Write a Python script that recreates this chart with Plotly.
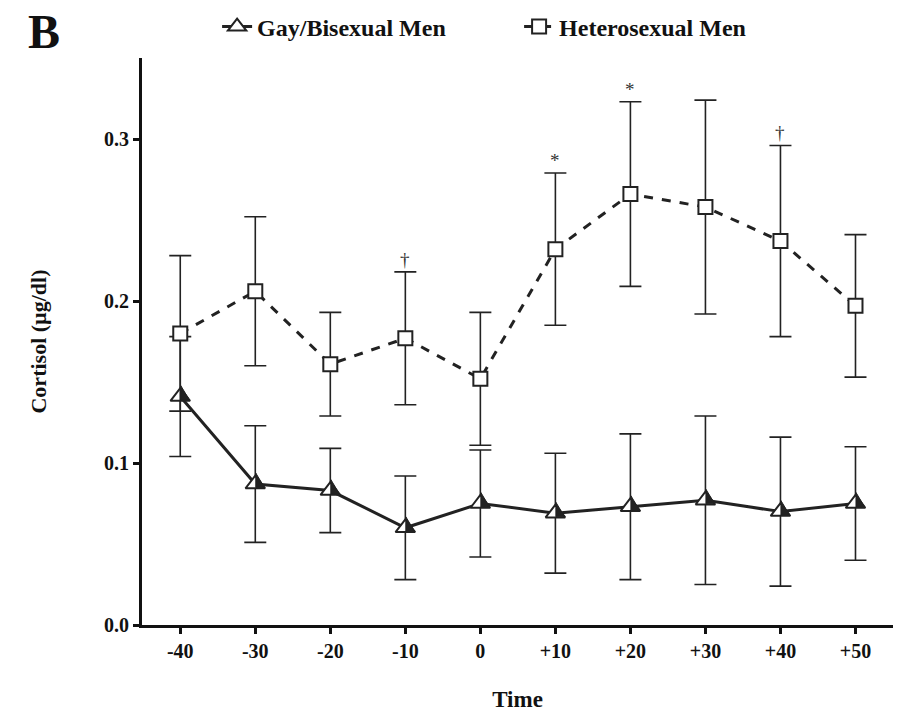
import plotly.graph_objects as go

# Sampling times (minutes relative to stressor) and their axis labels
times = [-40, -30, -20, -10, 0, 10, 20, 30, 40, 50]
time_labels = ["-40", "-30", "-20", "-10", "0", "+10", "+20", "+30", "+40", "+50"]

# Mean salivary cortisol (µg/dl) and SEM for each group
gay_mean = [0.141, 0.087, 0.083, 0.060, 0.075, 0.069, 0.073, 0.077, 0.070, 0.075]
gay_err = [0.037, 0.036, 0.026, 0.032, 0.033, 0.037, 0.045, 0.052, 0.046, 0.035]
het_mean = [0.180, 0.206, 0.161, 0.177, 0.152, 0.232, 0.266, 0.258, 0.237, 0.197]
het_err = [0.048, 0.046, 0.032, 0.041, 0.041, 0.047, 0.057, 0.066, 0.059, 0.044]

# Significance markers above the heterosexual group's error bars
sig_marks = {-10: "†", 10: "*", 20: "*", 40: "†"}

FONT = "Liberation Serif"
INK = "#222222"
TEXT = "#111111"

fig = go.Figure()

fig.add_trace(go.Scatter(
    x=times, y=gay_mean, name="Gay/Bisexual Men",
    mode="lines+markers",
    line=dict(color=INK, width=3),
    marker=dict(symbol="triangle-up", size=17, color="white",
                line=dict(color=INK, width=2)),
    error_y=dict(type="data", array=gay_err, visible=True,
                 color=INK, thickness=1.6, width=11),
))

fig.add_trace(go.Scatter(
    x=times, y=het_mean, name="Heterosexual Men",
    mode="lines+markers",
    line=dict(color=INK, width=3, dash="dash"),
    marker=dict(symbol="square", size=14, color="white",
                line=dict(color=INK, width=2)),
    error_y=dict(type="data", array=het_err, visible=True,
                 color=INK, thickness=1.6, width=11),
))

# Half-filled triangle markers: shade the right half of each triangle
for t, v in zip(times, gay_mean):
    fig.add_shape(
        type="path", xref="x", yref="y",
        xsizemode="pixel", ysizemode="pixel", xanchor=t, yanchor=v,
        path="M 0.5,11 L 0.5,-3.5 L 9.2,-3.5 Z",
        fillcolor=INK, line=dict(color=INK, width=1), layer="above",
    )

for t, mark in sig_marks.items():
    i = times.index(t)
    fig.add_annotation(
        x=t, y=het_mean[i] + het_err[i], text=mark, showarrow=False,
        yanchor="bottom", yshift=0,
        font=dict(family=FONT, size=19, color="#333333"),
    )

fig.add_annotation(
    x=0.0, y=1.0, xref="paper", yref="paper", xanchor="left", yanchor="middle",
    text="<b>B</b>", showarrow=False, xshift=-116, yshift=27,
    font=dict(family=FONT, size=48, color=TEXT),
)

fig.update_layout(
    width=898, height=713,
    margin=dict(l=142, r=5, t=57, b=86),
    paper_bgcolor="white", plot_bgcolor="white",
    font=dict(family=FONT, color=TEXT),
    showlegend=True,
    legend=dict(
        orientation="h", x=0.1, y=1.015, xanchor="left", yanchor="bottom",
        font=dict(family=FONT, size=24, color=TEXT, weight="bold"),
        itemwidth=30, entrywidth=257, entrywidthmode="pixels",
    ),
    xaxis=dict(
        range=[-45.1, 55], tickvals=times, ticktext=time_labels,
        showline=True, linecolor=TEXT, linewidth=3,
        ticks="outside", ticklen=6, tickwidth=3, tickcolor=TEXT,
        showgrid=False, zeroline=False,
        tickfont=dict(family=FONT, size=20, color=TEXT, weight="bold"),
        title=dict(text="Time", font=dict(family=FONT, size=23, weight="bold"),
                   standoff=30),
    ),
    yaxis=dict(
        range=[0, 0.35], tickvals=[0, 0.1, 0.2, 0.3], tickformat=".1f",
        showline=True, linecolor=TEXT, linewidth=3,
        ticks="outside", ticklen=6, tickwidth=3, tickcolor=TEXT,
        showgrid=False, zeroline=False,
        tickfont=dict(family=FONT, size=20, color=TEXT, weight="bold"),
        title=dict(text="Cortisol (µg/dl)", font=dict(family=FONT, size=22, weight="bold"),
                   standoff=52),
    ),
)

fig.write_html("out.html")
